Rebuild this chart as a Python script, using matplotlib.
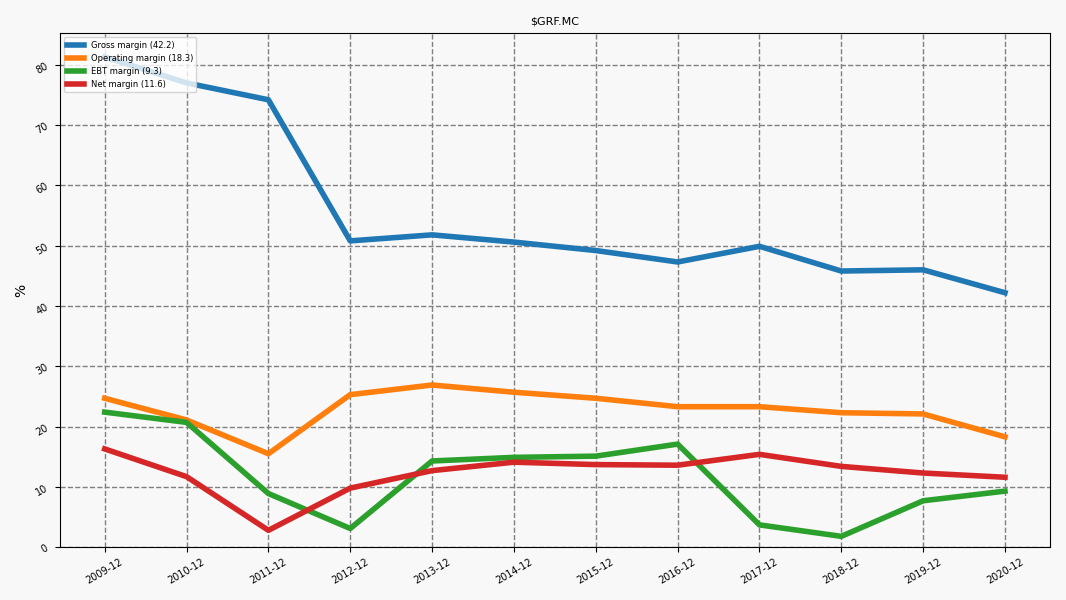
import matplotlib
matplotlib.use('Agg')
import matplotlib.pyplot as plt

periods = ['2009-12', '2010-12', '2011-12', '2012-12', '2013-12', '2014-12',
           '2015-12', '2016-12', '2017-12', '2018-12', '2019-12', '2020-12']
gross = [81.3, 77.0, 74.2, 50.8, 51.8, 50.6, 49.2, 47.3, 49.9, 45.8, 46.0, 42.2]
operating = [24.7, 21.1, 15.5, 25.3, 26.9, 25.7, 24.7, 23.3, 23.3, 22.3, 22.1, 18.3]
ebt = [22.4, 20.7, 8.9, 3.1, 14.3, 14.9, 15.1, 17.1, 3.7, 1.8, 7.7, 9.3]
net = [16.3, 11.7, 2.8, 9.8, 12.7, 14.1, 13.7, 13.6, 15.4, 13.4, 12.3, 11.6]

bg = '#f8f8f8'
fig, ax = plt.subplots(figsize=(10.66, 6), dpi=100)
fig.patch.set_facecolor(bg)
ax.set_facecolor(bg)
fig.subplots_adjust(left=0.056, right=0.985, top=0.945, bottom=0.088)

x = range(len(periods))
ax.plot(x, gross, lw=4, color='#1f77b4', label='Gross margin ({})'.format(gross[-1]))
ax.plot(x, operating, lw=4, color='#ff7f0e', label='Operating margin ({})'.format(operating[-1]))
ax.plot(x, ebt, lw=4, color='#2ca02c', label='EBT margin ({})'.format(ebt[-1]))
ax.plot(x, net, lw=4, color='#d62728', label='Net margin ({})'.format(net[-1]))

ax.set_xticks(list(x))
ax.set_xticklabels(periods, rotation=30, fontsize=7)
ax.tick_params(axis='y', labelsize=7, labelrotation=30)
ax.set_ylim(bottom=0)
ax.set_ylabel('%')
ax.set_title(r'\$GRF.MC', fontsize=8)
ax.grid(True, color='grey', linestyle='--', linewidth=1)
ax.legend(loc='upper left', fontsize=6)

plt.savefig('out.png', facecolor=bg)
